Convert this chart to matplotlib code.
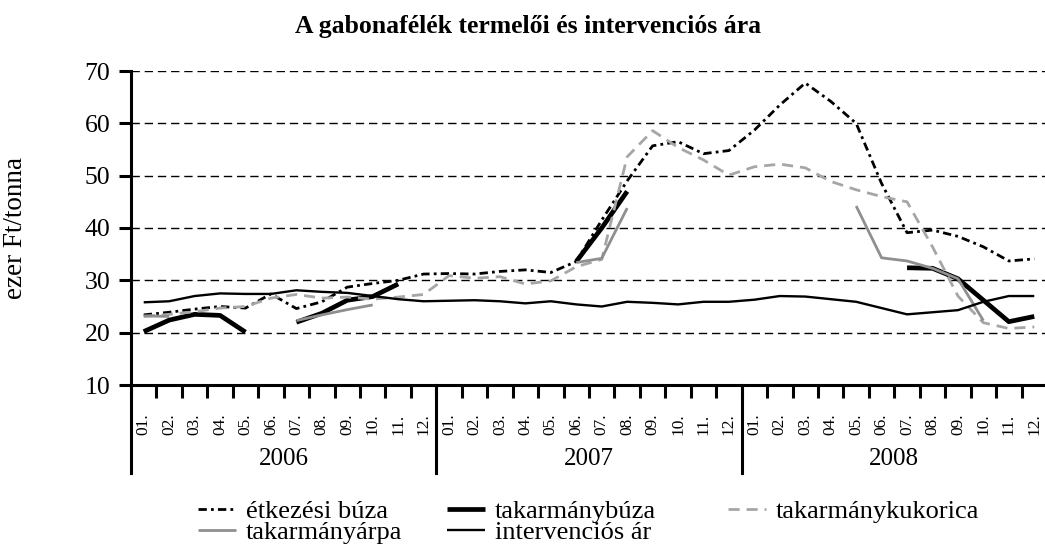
import numpy as np
import matplotlib
matplotlib.use("Agg")
import matplotlib.pyplot as plt
import matplotlib.transforms as mtransforms

nan = np.nan
months = ["01.", "02.", "03.", "04.", "05.", "06.", "07.", "08.", "09.", "10.", "11.", "12."]
years = ["2006", "2007", "2008"]

etkezesi_buza = [23.4, 23.9, 24.5, 25.0, 24.7, 27.4, 24.6, 25.9, 28.7, 29.4, 30.0, 31.2,
                 31.3, 31.2, 31.7, 32.0, 31.5, 33.6, 41.5, 49.0, 55.7, 56.5, 54.2, 54.8,
                 58.7, 63.5, 67.7, 64.2, 60.0, 48.5, 39.1, 39.6, 38.4, 36.4, 33.7, 34.1]
takarmanybuza = [20.2, 22.4, 23.5, 23.3, 20.1, nan, 22.0, 23.7, 26.2, 26.9, 29.3, nan,
                 nan, nan, nan, nan, nan, 33.6, 40.0, 47.0, nan, nan, nan, nan,
                 nan, nan, nan, nan, nan, nan, 32.4, 32.3, 30.3, 26.2, 22.1, 23.1]
takarmanykukorica = [23.1, 23.5, 24.0, 24.7, 25.0, 26.6, 27.3, 26.6, 26.8, 26.4, 26.8, 27.3,
                     30.9, 30.4, 30.7, 29.3, 29.9, 32.6, 34.0, 53.6, 58.6, 55.4, 53.0, 50.1,
                     51.7, 52.2, 51.5, 48.9, 47.3, 46.0, 45.0, 36.4, 27.0, 21.9, 20.8, 21.1]
takarmanyarpa = [23.2, 23.1, nan, nan, nan, nan, 22.3, 23.4, 24.4, 25.3, nan, nan,
                 nan, nan, nan, nan, nan, 33.4, 34.2, 43.8, nan, nan, nan, nan,
                 nan, nan, nan, nan, 44.2, 34.3, 33.7, 32.3, 30.3, 22.3, nan, nan]
intervencios_ar = [25.8, 26.0, 27.0, 27.5, 27.4, 27.4, 28.1, 27.8, 27.6, 27.0, 26.4, 26.0,
                   26.1, 26.2, 26.0, 25.6, 26.0, 25.4, 25.0, 25.9, 25.7, 25.4, 25.9, 25.9,
                   26.3, 27.0, 26.9, 26.4, 25.9, 24.7, 23.5, 23.9, 24.3, 25.9, 27.0, 27.0]

plt.rcParams['font.family'] = ['Liberation Serif', 'DejaVu Serif']

W, H = 1045, 558
fig = plt.figure(figsize=(W / 100, H / 100), dpi=100)
ax = fig.add_axes([131 / W, 1 - 385 / H, 916 / W, 314 / H])

n = len(etkezesi_buza)
x = np.arange(n)

styles = {
    'étkezési búza': dict(color='black', lw=2.0, ls=(0, (3.0, 1.5, 1, 1.5))),
    'takarmánybúza': dict(color='black', lw=3.4, ls='-'),
    'takarmánykukorica': dict(color='#a6a6a6', lw=2.0, ls=(0, (4, 2.5))),
    'takarmányárpa': dict(color='#8f8f8f', lw=2.0, ls='-'),
    'intervenciós ár': dict(color='black', lw=1.7, ls='-'),
}
series = [('étkezési búza', etkezesi_buza), ('takarmánybúza', takarmanybuza),
          ('takarmánykukorica', takarmanykukorica), ('takarmányárpa', takarmanyarpa),
          ('intervenciós ár', intervencios_ar)]
handles = {}
for name, vals in series:
    st = styles[name]
    ln, = ax.plot(x, np.array(vals, dtype=float), color=st['color'], lw=st['lw'],
                  linestyle=st['ls'], label=name, solid_capstyle='butt', clip_on=False)
    handles[name] = ln

ax.set_xlim(-0.5, n - 0.5)
ax.set_ylim(10, 70)
ax.set_yticks(np.arange(10, 71, 10))
ax.yaxis.grid(True, color='black', lw=1.0, linestyle=(0, (6, 3.5)))
ax.set_axisbelow(True)
for s in ['top', 'right']:
    ax.spines[s].set_visible(False)
ax.spines['left'].set_linewidth(2.2)
ax.spines['bottom'].set_linewidth(2.2)
ax.tick_params(axis='y', direction='out', length=9, width=2.2, labelsize=18.5, pad=6)
ax.set_xticks(np.arange(-0.5, n, 1))
ax.set_xticklabels([])
ax.tick_params(axis='x', direction='out', length=9, width=2.2)

trans = mtransforms.blended_transform_factory(ax.transData, ax.transAxes)
for i in range(n):
    ax.text(i, -0.125, months[i % 12], rotation=90, ha='center', va='center',
            fontsize=12.5, transform=trans)
for b in [-0.5, 11.5, 23.5, 35.5]:
    ax.plot([b, b], [0, -0.28], color='black', lw=2.2, transform=trans, clip_on=False)
for k, yr in enumerate(years):
    ax.text(k * 12 + 5.5, -0.235, yr, ha='center', va='center', fontsize=18, transform=trans)

ax.set_ylabel('ezer Ft/tonna', fontsize=19.5)
ax.yaxis.set_label_coords(-0.112, 0.5)

fig.text(528 / W, 1 - 26 / H, 'A gabonafélék termelői és intervenciós ára', ha='center',
         va='center', fontsize=18.5, fontweight='bold')

cols = [(198, ['étkezési búza', 'takarmányárpa']),
        (447, ['takarmánybúza', 'intervenciós ár']),
        (728, ['takarmánykukorica'])]
for xpix, names in cols:
    fig.legend([handles[nm] for nm in names], names, loc='upper left',
               bbox_to_anchor=(xpix / W, 1 - 500 / H), frameon=False, fontsize=19,
               handlelength=1.45, handletextpad=0.36, labelspacing=-0.12,
               borderpad=0, borderaxespad=0)

fig.savefig('out.png', dpi=100)
